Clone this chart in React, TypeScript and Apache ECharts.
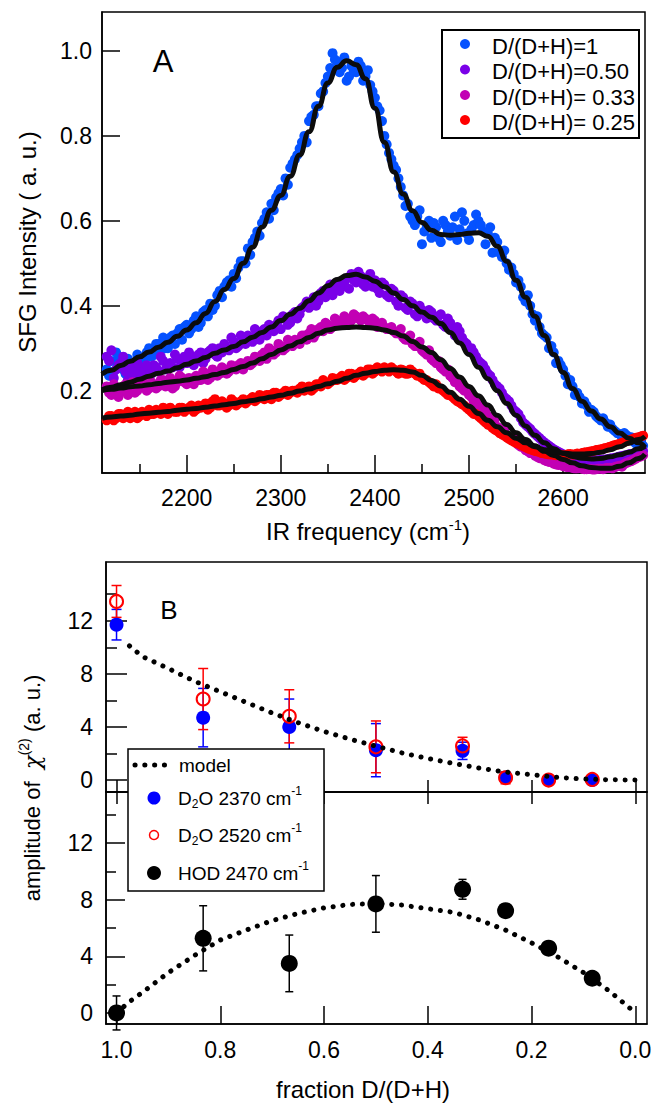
import { useEffect, useRef } from 'react';
import * as echarts from 'echarts';

const FONT = '"Liberation Sans", Arial, Helvetica, sans-serif';

// ---------- Panel A : SFG spectra ----------
const irFreq = [
  2115, 2120, 2125, 2130, 2135, 2140, 2145, 2150, 2155, 2160,
  2165, 2170, 2175, 2180, 2185, 2190, 2195, 2200, 2205, 2210,
  2215, 2220, 2225, 2230, 2235, 2240, 2245, 2250, 2255, 2260,
  2265, 2270, 2275, 2280, 2285, 2290, 2295, 2300, 2305, 2310,
  2315, 2320, 2325, 2330, 2335, 2340, 2345, 2350, 2355, 2360,
  2365, 2370, 2375, 2380, 2385, 2390, 2395, 2400, 2405, 2410,
  2415, 2420, 2425, 2430, 2435, 2440, 2445, 2450, 2455, 2460,
  2465, 2470, 2475, 2480, 2485, 2490, 2495, 2500, 2505, 2510,
  2515, 2520, 2525, 2530, 2535, 2540, 2545, 2550, 2555, 2560,
  2565, 2570, 2575, 2580, 2585, 2590, 2595, 2600, 2605, 2610,
  2615, 2620, 2625, 2630, 2635, 2640, 2645, 2650, 2655, 2660,
  2665, 2670, 2675, 2680, 2685,
];
// interleaved scan points
const irFreqB = [
  2117.5, 2122.5, 2127.5, 2132.5, 2137.5, 2142.5, 2147.5, 2152.5, 2157.5, 2162.5,
  2167.5, 2172.5, 2177.5, 2182.5, 2187.5, 2192.5, 2197.5, 2202.5, 2207.5, 2212.5,
  2217.5, 2222.5, 2227.5, 2232.5, 2237.5, 2242.5, 2247.5, 2252.5, 2257.5, 2262.5,
  2267.5, 2272.5, 2277.5, 2282.5, 2287.5, 2292.5, 2297.5, 2302.5, 2307.5, 2312.5,
  2317.5, 2322.5, 2327.5, 2332.5, 2337.5, 2342.5, 2347.5, 2352.5, 2357.5, 2362.5,
  2367.5, 2372.5, 2377.5, 2382.5, 2387.5, 2392.5, 2397.5, 2402.5, 2407.5, 2412.5,
  2417.5, 2422.5, 2427.5, 2432.5, 2437.5, 2442.5, 2447.5, 2452.5, 2457.5, 2462.5,
  2467.5, 2472.5, 2477.5, 2482.5, 2487.5, 2492.5, 2497.5, 2502.5, 2507.5, 2512.5,
  2517.5, 2522.5, 2527.5, 2532.5, 2537.5, 2542.5, 2547.5, 2552.5, 2557.5, 2562.5,
  2567.5, 2572.5, 2577.5, 2582.5, 2587.5, 2592.5, 2597.5, 2602.5, 2607.5, 2612.5,
  2617.5, 2622.5, 2627.5, 2632.5, 2637.5, 2642.5, 2647.5, 2652.5, 2657.5, 2662.5,
  2667.5, 2672.5, 2677.5, 2682.5,
];

const sfgFrac100 = [
  0.25, 0.27, 0.29, 0.265, 0.24, 0.26, 0.255, 0.27, 0.275, 0.30,
  0.285, 0.31, 0.325, 0.30, 0.33, 0.335, 0.32, 0.355, 0.345, 0.375,
  0.36, 0.39, 0.405, 0.40, 0.435, 0.445, 0.46, 0.475, 0.49, 0.505,
  0.535, 0.55, 0.575, 0.595, 0.62, 0.64, 0.655, 0.675, 0.70, 0.725,
  0.745, 0.77, 0.80, 0.835, 0.85, 0.87, 0.905, 0.94, 0.995, 0.975,
  0.96, 0.93, 0.965, 0.95, 0.965, 0.94, 0.92, 0.89, 0.86, 0.80,
  0.76, 0.73, 0.70, 0.66, 0.64, 0.60, 0.61, 0.545, 0.59, 0.56,
  0.585, 0.55, 0.59, 0.565, 0.61, 0.58, 0.60, 0.555, 0.59, 0.60,
  0.575, 0.57, 0.525, 0.55, 0.515, 0.50, 0.49, 0.455, 0.445, 0.41,
  0.40, 0.365, 0.35, 0.33, 0.30, 0.29, 0.27, 0.25, 0.215, 0.21,
  0.195, 0.17, 0.165, 0.155, 0.14, 0.13, 0.125, 0.12, 0.105, 0.098,
  0.10, 0.085, 0.08, 0.078, 0.07,
];
const sfgFrac100B = [
  0.235, 0.245, 0.28, 0.25, 0.275, 0.245, 0.285, 0.26, 0.29, 0.28,
  0.31, 0.295, 0.30, 0.325, 0.31, 0.345, 0.35, 0.335, 0.365, 0.35,
  0.385, 0.375, 0.39, 0.425, 0.42, 0.455, 0.445, 0.465, 0.505, 0.50,
  0.52, 0.56, 0.565, 0.605, 0.605, 0.625, 0.665, 0.66, 0.685, 0.735,
  0.755, 0.785, 0.785, 0.845, 0.87, 0.90, 0.925, 0.96, 0.98, 0.95,
  0.985, 0.94, 0.955, 0.975, 0.93, 0.955, 0.905, 0.87, 0.835, 0.78,
  0.745, 0.72, 0.68, 0.635, 0.61, 0.59, 0.625, 0.575, 0.60, 0.595,
  0.56, 0.60, 0.575, 0.585, 0.555, 0.62, 0.57, 0.58, 0.615, 0.59,
  0.545, 0.585, 0.56, 0.525, 0.53, 0.485, 0.475, 0.46, 0.42, 0.425,
  0.38, 0.375, 0.335, 0.325, 0.305, 0.265, 0.26, 0.235, 0.225, 0.19,
  0.185, 0.175, 0.15, 0.15, 0.135, 0.135, 0.115, 0.11, 0.10, 0.09,
  0.095, 0.09, 0.075, 0.082,
];

const sfgFrac050 = [
  0.28, 0.295, 0.25, 0.265, 0.245, 0.26, 0.235, 0.25, 0.245, 0.255,
  0.26, 0.245, 0.27, 0.26, 0.255, 0.275, 0.27, 0.265, 0.28, 0.27,
  0.29, 0.275, 0.295, 0.285, 0.30, 0.31, 0.295, 0.315, 0.305, 0.32,
  0.33, 0.315, 0.335, 0.34, 0.33, 0.35, 0.355, 0.345, 0.37, 0.36,
  0.385, 0.38, 0.40, 0.395, 0.42, 0.41, 0.435, 0.44, 0.425, 0.455,
  0.445, 0.465, 0.475, 0.455, 0.47, 0.445, 0.475, 0.46, 0.43, 0.45,
  0.42, 0.435, 0.40, 0.42, 0.39, 0.405, 0.375, 0.39, 0.37, 0.385,
  0.365, 0.38, 0.35, 0.36, 0.33, 0.34, 0.315, 0.30, 0.29, 0.27,
  0.26, 0.24, 0.225, 0.21, 0.195, 0.18, 0.165, 0.15, 0.135, 0.12,
  0.11, 0.098, 0.088, 0.078, 0.07, 0.062, 0.056, 0.05, 0.046, 0.043,
  0.04, 0.038, 0.036, 0.035, 0.036, 0.037, 0.038, 0.04, 0.042, 0.045,
  0.047, 0.05, 0.052, 0.055, 0.058,
];
const sfgFrac050B = [
  0.27, 0.23, 0.26, 0.28, 0.225, 0.245, 0.265, 0.235, 0.26, 0.24,
  0.255, 0.28, 0.25, 0.265, 0.285, 0.255, 0.28, 0.29, 0.26, 0.285,
  0.265, 0.29, 0.30, 0.28, 0.29, 0.30, 0.325, 0.30, 0.33, 0.31,
  0.325, 0.345, 0.32, 0.345, 0.355, 0.34, 0.365, 0.375, 0.355, 0.38,
  0.37, 0.395, 0.41, 0.41, 0.40, 0.43, 0.42, 0.45, 0.44, 0.435,
  0.455, 0.44, 0.46, 0.48, 0.45, 0.465, 0.445, 0.44, 0.455, 0.425,
  0.44, 0.41, 0.425, 0.395, 0.41, 0.38, 0.40, 0.38, 0.39, 0.37,
  0.375, 0.355, 0.37, 0.345, 0.35, 0.325, 0.31, 0.30, 0.28, 0.265,
  0.25, 0.235, 0.215, 0.205, 0.185, 0.175, 0.155, 0.145, 0.125, 0.115,
  0.103, 0.093, 0.083, 0.074, 0.066, 0.059, 0.053, 0.048, 0.045, 0.041,
  0.039, 0.037, 0.035, 0.035, 0.036, 0.038, 0.039, 0.041, 0.043, 0.046,
  0.048, 0.051, 0.053, 0.056,
];

const sfgFrac033 = [
  0.21, 0.19, 0.205, 0.20, 0.215, 0.205, 0.195, 0.21, 0.22, 0.205,
  0.215, 0.21, 0.225, 0.215, 0.205, 0.22, 0.23, 0.215, 0.225, 0.235,
  0.225, 0.24, 0.23, 0.245, 0.24, 0.25, 0.245, 0.255, 0.26, 0.25,
  0.27, 0.265, 0.275, 0.285, 0.275, 0.295, 0.29, 0.305, 0.30, 0.315,
  0.32, 0.31, 0.33, 0.335, 0.325, 0.345, 0.34, 0.355, 0.35, 0.365,
  0.36, 0.37, 0.365, 0.375, 0.365, 0.37, 0.36, 0.365, 0.355, 0.35,
  0.345, 0.34, 0.335, 0.325, 0.32, 0.31, 0.305, 0.295, 0.285, 0.275,
  0.265, 0.255, 0.245, 0.235, 0.22, 0.21, 0.20, 0.19, 0.175, 0.165,
  0.15, 0.14, 0.128, 0.115, 0.105, 0.095, 0.085, 0.077, 0.068, 0.06,
  0.053, 0.047, 0.041, 0.036, 0.032, 0.028, 0.025, 0.022, 0.02, 0.018,
  0.017, 0.016, 0.015, 0.015, 0.015, 0.016, 0.017, 0.018, 0.02, 0.023,
  0.027, 0.032, 0.037, 0.043, 0.048,
];
const sfgFrac033B = [
  0.195, 0.215, 0.185, 0.21, 0.19, 0.22, 0.20, 0.215, 0.20, 0.22,
  0.205, 0.225, 0.21, 0.23, 0.21, 0.235, 0.22, 0.23, 0.215, 0.225,
  0.245, 0.225, 0.25, 0.235, 0.255, 0.24, 0.26, 0.25, 0.265, 0.26,
  0.26, 0.28, 0.27, 0.29, 0.30, 0.285, 0.31, 0.295, 0.32, 0.305,
  0.315, 0.33, 0.32, 0.345, 0.335, 0.35, 0.36, 0.345, 0.37, 0.355,
  0.375, 0.36, 0.38, 0.37, 0.375, 0.365, 0.37, 0.35, 0.36, 0.345,
  0.35, 0.335, 0.345, 0.32, 0.33, 0.305, 0.315, 0.29, 0.295, 0.27,
  0.27, 0.25, 0.25, 0.23, 0.225, 0.205, 0.205, 0.185, 0.18, 0.16,
  0.155, 0.135, 0.133, 0.11, 0.11, 0.09, 0.09, 0.072, 0.072, 0.057,
  0.056, 0.044, 0.044, 0.034, 0.034, 0.026, 0.027, 0.021, 0.021, 0.017,
  0.018, 0.015, 0.016, 0.014, 0.016, 0.015, 0.018, 0.017, 0.022, 0.021,
  0.03, 0.034, 0.04, 0.045,
];

const sfgFrac025 = [
  0.13, 0.14, 0.135, 0.145, 0.14, 0.135, 0.15, 0.14, 0.145, 0.155,
  0.145, 0.15, 0.16, 0.145, 0.155, 0.15, 0.16, 0.155, 0.165, 0.155,
  0.16, 0.17, 0.16, 0.18, 0.165, 0.17, 0.165, 0.175, 0.17, 0.18,
  0.175, 0.185, 0.18, 0.185, 0.19, 0.18, 0.195, 0.19, 0.20, 0.195,
  0.20, 0.205, 0.20, 0.21, 0.205, 0.215, 0.225, 0.215, 0.23, 0.225,
  0.235, 0.23, 0.24, 0.235, 0.245, 0.24, 0.25, 0.245, 0.25, 0.255,
  0.245, 0.25, 0.24, 0.248, 0.24, 0.245, 0.235, 0.23, 0.225, 0.215,
  0.215, 0.205, 0.195, 0.19, 0.18, 0.172, 0.165, 0.155, 0.145, 0.14,
  0.13, 0.12, 0.112, 0.105, 0.097, 0.09, 0.083, 0.077, 0.072, 0.067,
  0.062, 0.058, 0.055, 0.052, 0.05, 0.049, 0.048, 0.048, 0.05, 0.049,
  0.052, 0.053, 0.055, 0.057, 0.06, 0.062, 0.065, 0.068, 0.072, 0.075,
  0.079, 0.083, 0.087, 0.09, 0.094,
];
const sfgFrac025B = [
  0.14, 0.13, 0.145, 0.135, 0.15, 0.14, 0.135, 0.15, 0.14, 0.145,
  0.155, 0.145, 0.15, 0.16, 0.15, 0.16, 0.15, 0.16, 0.15, 0.165,
  0.165, 0.155, 0.175, 0.165, 0.175, 0.16, 0.18, 0.165, 0.175, 0.17,
  0.18, 0.175, 0.19, 0.18, 0.19, 0.195, 0.185, 0.195, 0.19, 0.20,
  0.195, 0.21, 0.205, 0.20, 0.215, 0.21, 0.22, 0.22, 0.225, 0.23,
  0.225, 0.24, 0.23, 0.24, 0.235, 0.25, 0.24, 0.255, 0.245, 0.25,
  0.255, 0.245, 0.25, 0.24, 0.25, 0.24, 0.24, 0.225, 0.22, 0.21,
  0.205, 0.20, 0.19, 0.185, 0.175, 0.168, 0.16, 0.15, 0.145, 0.135,
  0.125, 0.118, 0.108, 0.10, 0.094, 0.086, 0.08, 0.075, 0.069, 0.064,
  0.06, 0.057, 0.053, 0.051, 0.05, 0.048, 0.049, 0.047, 0.051, 0.05,
  0.051, 0.054, 0.056, 0.058, 0.061, 0.063, 0.066, 0.07, 0.073, 0.077,
  0.081, 0.085, 0.089, 0.092,
];

const fitFreq = [
  2110, 2120, 2130, 2140, 2150, 2160, 2170, 2180, 2190, 2200,
  2210, 2220, 2230, 2240, 2250, 2260, 2270, 2280, 2290, 2300,
  2310, 2320, 2330, 2340, 2350, 2360, 2370, 2380, 2390, 2400,
  2410, 2420, 2430, 2440, 2450, 2460, 2470, 2480, 2490, 2500,
  2510, 2520, 2530, 2540, 2550, 2560, 2570, 2580, 2590, 2600,
  2610, 2620, 2630, 2640, 2650, 2660, 2670, 2680, 2687,
];

const fitFrac100 = [
  0.239, 0.248, 0.259, 0.269, 0.28, 0.291, 0.302, 0.314, 0.328, 0.343,
  0.36, 0.382, 0.41, 0.438, 0.464, 0.50, 0.538, 0.585, 0.625, 0.66,
  0.705, 0.755, 0.81, 0.87, 0.925, 0.962, 0.977, 0.968, 0.935, 0.865,
  0.785, 0.715, 0.663, 0.624, 0.596, 0.578, 0.568, 0.566, 0.568, 0.571,
  0.572, 0.564, 0.54, 0.505, 0.46, 0.42, 0.375, 0.33, 0.285, 0.243,
  0.205, 0.175, 0.152, 0.133, 0.115, 0.10, 0.088, 0.077, 0.066,
];

const fitFrac050 = [
  0.202, 0.208, 0.214, 0.22, 0.227, 0.234, 0.241, 0.246, 0.254, 0.262,
  0.27, 0.278, 0.288, 0.296, 0.304, 0.315, 0.326, 0.337, 0.35, 0.365,
  0.38, 0.394, 0.412, 0.43, 0.447, 0.462, 0.471, 0.474, 0.468, 0.458,
  0.445, 0.43, 0.415, 0.40, 0.385, 0.373, 0.358, 0.337, 0.312, 0.285,
  0.255, 0.228, 0.20, 0.17, 0.142, 0.117, 0.095, 0.077, 0.063, 0.052,
  0.045, 0.041, 0.039, 0.04, 0.044, 0.049, 0.055, 0.063, 0.069,
];

const fitFrac033 = [
  0.2, 0.203, 0.206, 0.209, 0.211, 0.214, 0.217, 0.22, 0.222, 0.225,
  0.229, 0.233, 0.238, 0.243, 0.25, 0.257, 0.265, 0.275, 0.285, 0.296,
  0.305, 0.315, 0.325, 0.335, 0.343, 0.347, 0.349, 0.35, 0.349, 0.347,
  0.343, 0.337, 0.329, 0.316, 0.303, 0.29, 0.273, 0.252, 0.232, 0.21,
  0.188, 0.166, 0.142, 0.12, 0.101, 0.085, 0.07, 0.057, 0.047, 0.038,
  0.03, 0.023, 0.019, 0.017, 0.017, 0.022, 0.03, 0.04, 0.05,
];

const fitFrac025 = [
  0.135, 0.138, 0.14, 0.142, 0.145, 0.147, 0.149, 0.151, 0.154, 0.156,
  0.158, 0.161, 0.164, 0.167, 0.17, 0.174, 0.177, 0.181, 0.185, 0.189,
  0.194, 0.199, 0.204, 0.21, 0.216, 0.222, 0.229, 0.236, 0.241, 0.245,
  0.248, 0.249, 0.248, 0.244, 0.236, 0.224, 0.211, 0.196, 0.18, 0.163,
  0.146, 0.13, 0.115, 0.101, 0.088, 0.077, 0.068, 0.061, 0.056, 0.053,
  0.051, 0.051, 0.052, 0.055, 0.061, 0.068, 0.076, 0.085, 0.092,
];

const spectraNames = ['D/(D+H)=1', 'D/(D+H)=0.50', 'D/(D+H)= 0.33', 'D/(D+H)= 0.25'];
const spectraColors = ['#0552ff', '#7a00e8', '#c200b4', '#ff0000'];

const freqTickLabels = [2200, 2300, 2400, 2500, 2600];
const freqMinorTicks = [2150, 2250, 2350, 2450, 2550, 2650];
const sfgTickLabels = [0.2, 0.4, 0.6, 0.8, 1.0];

// ---------- Panel B : amplitudes ----------
const fractions = [1.0, 0.833, 0.667, 0.5, 0.333, 0.25, 0.167, 0.083];
const d2o2370 = [11.7, 4.7, 4.0, 2.25, 2.2, 0.2, 0.0, 0.0];
const d2o2370Err = [1.15, 2.2, 2.1, 2.0, 0.65, 0.35, 0.25, 0.2];
const d2o2520 = [13.45, 6.1, 4.8, 2.5, 2.57, 0.17, 0.0, 0.05];
const d2o2520Err = [1.2, 2.3, 2.0, 1.95, 0.65, 0.45, 0.3, 0.3];
const hod2470 = [0.0, 5.27, 3.5, 7.7, 8.73, 7.22, 4.57, 2.45];
const hod2470Err = [1.2, 2.3, 2.0, 2.0, 0.7, 0.2, 0.2, 0.2];

const modelFrac = [1.0, 0.975, 0.95, 0.9, 0.85, 0.8, 0.75, 0.7, 0.65, 0.6, 0.55, 0.5, 0.45, 0.4, 0.35, 0.3, 0.25, 0.2, 0.15, 0.1, 0.05, 0.0];
const modelD2O = [null, 10.1, 9.3, 8.4, 7.45, 6.65, 5.85, 5.05, 4.32, 3.66, 3.08, 2.55, 2.05, 1.62, 1.25, 0.9, 0.6, 0.4, 0.2, 0.08, 0.02, 0.0];
const modelHOD = [0.0, 0.8, 1.45, 2.85, 4.05, 5.15, 5.85, 6.52, 7.02, 7.42, 7.66, 7.72, 7.62, 7.36, 7.1, 6.56, 5.85, 4.95, 3.97, 2.85, 1.55, 0.02];

const fracTicks = [1.0, 0.8, 0.6, 0.4, 0.2, 0.0];
const ampMajor = [0, 4, 8, 12];
const ampMinor = [2, 6, 10, 14];

const zip = (xs: number[], ys: (number | null)[]) =>
  xs.map((x, i) => [x, ys[i]]).filter((p) => p[1] !== null);
const errData = (xs: number[], ys: number[], es: number[]) =>
  xs.map((x, i) => [x, ys[i] - es[i], ys[i] + es[i]]);

function errorBars(name: string, xi: number, yi: number, data: number[][], color: string, cap: number) {
  return {
    name,
    type: 'custom',
    xAxisIndex: xi,
    yAxisIndex: yi,
    silent: true,
    encode: { x: 0, y: [1, 2] },
    data,
    renderItem: (_p: any, api: any) => {
      const x = api.value(0);
      const top = api.coord([x, api.value(2)]);
      const bot = api.coord([x, api.value(1)]);
      const st = { stroke: color, lineWidth: 1.5 };
      const h = cap / 2;
      return {
        type: 'group',
        children: [
          { type: 'line', shape: { x1: top[0], y1: top[1], x2: bot[0], y2: bot[1] }, style: st },
          { type: 'line', shape: { x1: top[0] - h, y1: top[1], x2: top[0] + h, y2: top[1] }, style: st },
          { type: 'line', shape: { x1: bot[0] - h, y1: bot[1], x2: bot[0] + h, y2: bot[1] }, style: st },
        ],
      };
    },
  };
}

const black = '#000';
const axLine = { show: true, onZero: false, lineStyle: { color: black, width: 1.5 } };
const noLine = { show: false, onZero: false };
const lbl = { color: black, fontSize: 23, fontFamily: FONT };

function valueAxis(extra: any) {
  return { type: 'value', splitLine: { show: false }, ...extra };
}

export default function App() {
  const ref = useRef<HTMLDivElement>(null);
  useEffect(() => {
    document.body.style.margin = '0';
    const chart = echarts.init(ref.current!, null, { renderer: 'svg' });

    const tick = (len: number, values: number[]) => ({
      show: true,
      inside: true,
      length: len,
      customValues: values,
      lineStyle: { color: black, width: 1.5 },
    });

    const xAxis = [
      valueAxis({
        gridIndex: 0, position: 'bottom', min: 2110, max: 2687,
        axisLine: axLine, axisTick: tick(18, freqTickLabels),
        axisLabel: { ...lbl, customValues: freqTickLabels, margin: 13, formatter: (v: number) => String(v) },
      }),
      valueAxis({
        gridIndex: 0, position: 'bottom', min: 2110, max: 2687,
        axisLine: noLine, axisTick: tick(9, freqMinorTicks), axisLabel: { show: false },
      }),
      valueAxis({
        gridIndex: 1, position: 'bottom', inverse: true, min: -0.0226, max: 1.0203,
        axisLine: axLine, axisTick: tick(12, fracTicks), axisLabel: { show: false },
      }),
      valueAxis({
        gridIndex: 2, position: 'bottom', inverse: true, min: -0.0226, max: 1.0203,
        axisLine: axLine, axisTick: tick(18, fracTicks),
        axisLabel: { ...lbl, customValues: fracTicks, margin: 14, formatter: (v: number) => v.toFixed(1) },
      }),
      valueAxis({
        gridIndex: 2, position: 'top', inverse: true, min: -0.0226, max: 1.0203,
        axisLine: noLine, axisTick: tick(12, fracTicks), axisLabel: { show: false },
      }),
    ];

    const yAxis = [
      valueAxis({
        gridIndex: 0, position: 'left', min: 0.006, max: 1.092,
        axisLine: axLine, axisTick: tick(18, sfgTickLabels),
        axisLabel: { ...lbl, customValues: sfgTickLabels, margin: 10, formatter: (v: number) => v.toFixed(1) },
      }),
      valueAxis({
        gridIndex: 1, position: 'left', min: -0.9, max: 16.42,
        axisLine: axLine, axisTick: tick(21, ampMajor),
        axisLabel: { ...lbl, customValues: ampMajor, margin: 13, formatter: (v: number) => String(v) },
      }),
      valueAxis({
        gridIndex: 1, position: 'left', min: -0.9, max: 16.42,
        axisLine: noLine, axisTick: tick(11, ampMinor), axisLabel: { show: false },
      }),
      valueAxis({
        gridIndex: 2, position: 'left', min: -0.78, max: 15.6,
        axisLine: axLine, axisTick: tick(19, ampMajor),
        axisLabel: { ...lbl, customValues: ampMajor, margin: 13, formatter: (v: number) => String(v) },
      }),
      valueAxis({
        gridIndex: 2, position: 'left', min: -0.78, max: 15.6,
        axisLine: noLine, axisTick: tick(10, ampMinor), axisLabel: { show: false },
      }),
    ];

    const spectraA = [sfgFrac100, sfgFrac050, sfgFrac033, sfgFrac025];
    const spectraB = [sfgFrac100B, sfgFrac050B, sfgFrac033B, sfgFrac025B];
    const fits = [fitFrac100, fitFrac050, fitFrac033, fitFrac025];

    const series: any[] = [];
    spectraA.forEach((ys, i) => {
      series.push({
        name: spectraNames[i],
        type: 'scatter',
        xAxisIndex: 0,
        yAxisIndex: 0,
        symbol: 'circle',
        symbolSize: 10,
        silent: true,
        itemStyle: { color: spectraColors[i], opacity: 1 },
        data: zip(irFreq, ys).concat(zip(irFreqB, spectraB[i])),
      });
    });
    fits.forEach((ys, i) => {
      series.push({
        name: 'fit ' + spectraNames[i],
        type: 'line',
        xAxisIndex: 0,
        yAxisIndex: 0,
        symbol: 'none',
        smooth: 0.5,
        smoothMonotone: 'x',
        silent: true,
        lineStyle: { color: '#0c0c0c', width: 5 },
        data: zip(fitFreq, ys),
      });
    });

    // panel B upper (D2O)
    series.push(errorBars('D2O 2370 err', 2, 1, errData(fractions, d2o2370, d2o2370Err), '#0000ff', 10));
    series.push({
      name: 'D2O 2370 cm-1', type: 'scatter', xAxisIndex: 2, yAxisIndex: 1, symbolSize: 14, silent: true,
      itemStyle: { color: '#0000ff', opacity: 1 }, data: zip(fractions, d2o2370),
    });
    series.push(errorBars('D2O 2520 err', 2, 1, errData(fractions, d2o2520, d2o2520Err), '#ff0000', 10));
    series.push({
      name: 'D2O 2520 cm-1', type: 'scatter', xAxisIndex: 2, yAxisIndex: 1, symbolSize: 13, silent: true,
      itemStyle: { color: 'rgba(0,0,0,0)', borderColor: '#ff0000', borderWidth: 2, opacity: 1 },
      data: zip(fractions, d2o2520),
    });
    series.push({
      name: 'model', type: 'line', xAxisIndex: 2, yAxisIndex: 1, symbol: 'none', silent: true,
      lineStyle: { color: black, width: 5, type: [0.1, 9.7], cap: 'round' },
      data: zip(modelFrac, modelD2O),
    });

    // panel B lower (HOD)
    series.push(errorBars('HOD err', 3, 3, errData(fractions, hod2470, hod2470Err), black, 8));
    series.push({
      name: 'HOD 2470 cm-1', type: 'scatter', xAxisIndex: 3, yAxisIndex: 3, symbolSize: 17, silent: true,
      itemStyle: { color: black, opacity: 1 }, data: zip(fractions, hod2470),
    });
    series.push({
      name: 'model HOD', type: 'line', xAxisIndex: 3, yAxisIndex: 3, symbol: 'none', silent: true,
      lineStyle: { color: black, width: 5, type: [0.1, 9.7], cap: 'round' },
      data: zip(modelFrac, modelHOD),
    });

    const text = (x: number, y: number, t: string, size: number, extra: any = {}) => ({
      type: 'text', x, y, z: 100, silent: true, ...extra,
      style: { text: t, fill: black, fontSize: size, fontFamily: FONT, align: 'center', verticalAlign: 'middle', ...(extra.style || {}) },
    });

    const legTopRows = [44, 69.5, 95, 120];
    const graphic: any[] = [
      text(163, 61, 'A', 31),
      text(169, 610, 'B', 26),
      text(27, 242, 'SFG Intensity ( a. u.)', 24, { rotation: Math.PI / 2 }),
      text(368, 531, '', 24, {
        style: {
          text: '{a|IR frequency (cm}{s|-1}{a|)}',
          rich: {
            a: { fontSize: 24, fontFamily: FONT, fill: black },
            s: { fontSize: 15, fontFamily: FONT, fill: black, padding: [0, 0, 14, 0] },
          },
        },
      }),
      text(363, 1089, 'fraction D/(D+H)', 24),
      text(32, 788, '', 22, {
        rotation: Math.PI / 2,
        style: {
          text: '{a|amplitude of  }{c|χ}{s|(2)}{a| (a. u.)}',
          rich: {
            a: { fontSize: 22, fontFamily: FONT, fill: black },
            c: { fontSize: 23, fontFamily: '"DejaVu Serif", serif', fontStyle: 'italic', fill: black },
            s: { fontSize: 14, fontFamily: FONT, fill: black, padding: [0, 0, 16, 0] },
          },
        },
      }),
      // top legend
      {
        type: 'rect', z: 100, silent: true,
        shape: { x: 442, y: 30, width: 197, height: 108 },
        style: { fill: '#fff', stroke: black, lineWidth: 2 },
      },
      ...legTopRows.map((y, i) => ({
        type: 'circle', z: 101, silent: true, shape: { cx: 465, cy: y, r: 5 }, style: { fill: spectraColors[i] },
      })),
      ...legTopRows.map((y, i) => text(492, y + 2, spectraNames[i], 22, { z: 101, style: { align: 'left' } })),
      // bottom legend
      {
        type: 'rect', z: 100, silent: true,
        shape: { x: 128, y: 749, width: 196, height: 142 },
        style: { fill: '#fff', stroke: black, lineWidth: 1.5 },
      },
      {
        type: 'line', z: 101, silent: true,
        shape: { x1: 135, y1: 765, x2: 167, y2: 765 },
        style: { stroke: black, lineWidth: 5, lineDash: [0.1, 9.7], lineCap: 'round' },
      },
      { type: 'circle', z: 101, silent: true, shape: { cx: 154, cy: 798, r: 6.5 }, style: { fill: '#0000ff' } },
      {
        type: 'circle', z: 101, silent: true, shape: { cx: 154, cy: 835, r: 4.5 },
        style: { fill: 'none', stroke: '#ff0000', lineWidth: 1.5 },
      },
      { type: 'circle', z: 101, silent: true, shape: { cx: 154, cy: 873, r: 7 }, style: { fill: black } },
      text(179, 765, 'model', 19, { z: 101, style: { align: 'left' } }),
      ...[
        [798, '{a|D}{b|2}{a|O 2370 cm}{c|-1}'],
        [835, '{a|D}{b|2}{a|O 2520 cm}{c|-1}'],
        [873, '{a|HOD 2470 cm}{c|-1}'],
      ].map(([y, t]) =>
        text(178, y as number, '', 19, {
          z: 101,
          style: {
            align: 'left',
            text: t,
            rich: {
              a: { fontSize: 19, fontFamily: FONT, fill: black },
              b: { fontSize: 12, fontFamily: FONT, fill: black, padding: [12, 0, 0, 0] },
              c: { fontSize: 12, fontFamily: FONT, fill: black, padding: [0, 0, 14, 0] },
            },
          },
        })
      ),
    ];

    const gridBox = { show: true, borderColor: black, borderWidth: 1.5, backgroundColor: 'transparent' };

    chart.setOption({
      animation: false,
      backgroundColor: '#ffffff',
      grid: [
        { left: 102, top: 12, width: 543, height: 461, ...gridBox },
        { left: 106, top: 562, width: 541, height: 230, ...gridBox },
        { left: 106, top: 792, width: 541, height: 232, ...gridBox },
      ],
      xAxis,
      yAxis,
      series,
      graphic,
    });
    return () => chart.dispose();
  }, []);
  return <div ref={ref} style={{ width: 655, height: 1104 }} />;
}
